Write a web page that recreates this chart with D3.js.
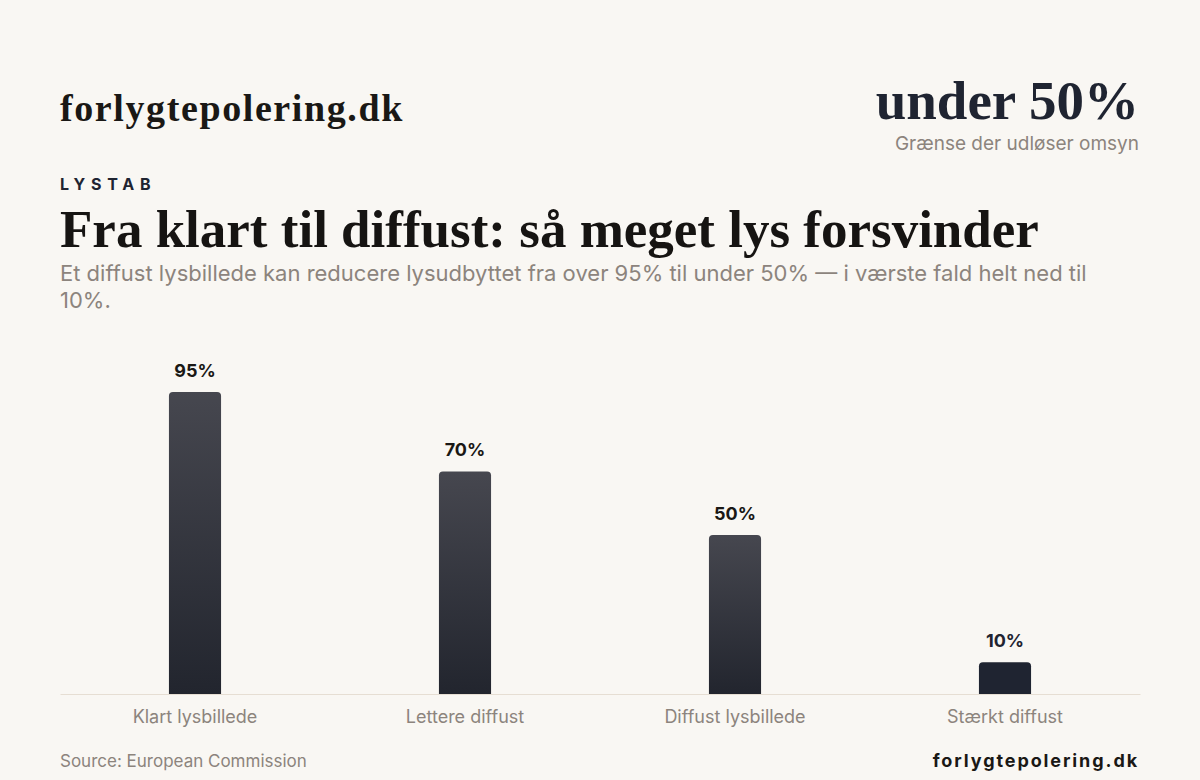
<!DOCTYPE html>
<html>
<head>
<meta charset="utf-8">
<script src="https://cdn.jsdelivr.net/npm/d3@7"></script>
<style>
  html, body { margin: 0; padding: 0; background: #f9f7f3; }
  svg { display: block; }
  .serif { font-family: "Liberation Serif", "DejaVu Serif", serif; font-weight: 700; }
  .sans { font-family: Inter, "Noto Sans", sans-serif; }
</style>
</head>
<body>
<div id="chart"></div>
<script>
const categories = ["Klart lysbillede", "Lettere diffust", "Diffust lysbillede", "Stærkt diffust"];
const values = [95, 70, 50, 10];
const highlighted = ["Stærkt diffust"];
const subtitleLines = [
  "Et diffust lysbillede kan reducere lysudbyttet fra over 95% til under 50% — i værste fald helt ned til",
  "10%."
];

const W = 1200, H = 780;
const margin = { top: 376, right: 60, bottom: 86, left: 60 };

const svg = d3.select("#chart").append("svg")
  .attr("width", W)
  .attr("height", H);

svg.append("rect").attr("width", W).attr("height", H).attr("fill", "#f9f7f3");

const defs = svg.append("defs");
const grad = defs.append("linearGradient")
  .attr("id", "barGrad")
  .attr("x1", 0).attr("y1", 0).attr("x2", 0).attr("y2", 1);
grad.append("stop").attr("offset", "0%").attr("stop-color", "#46474f");
grad.append("stop").attr("offset", "100%").attr("stop-color", "#22252e");

// header
svg.append("text").attr("class", "serif")
  .attr("x", 60).attr("y", 121)
  .attr("font-size", 38).attr("fill", "#1a1815")
  .attr("letter-spacing", 1.6)
  .text("forlygtepolering.dk");

svg.append("text").attr("class", "serif")
  .attr("x", 1139).attr("y", 119)
  .attr("text-anchor", "end")
  .attr("font-size", 55).attr("fill", "#1f2431")
  .text("under 50%");

svg.append("text").attr("class", "sans")
  .attr("x", 1139).attr("y", 150)
  .attr("text-anchor", "end")
  .attr("font-size", 19).attr("fill", "#8c847d")
  .text("Grænse der udløser omsyn");

svg.append("text").attr("class", "sans")
  .attr("x", 60).attr("y", 190)
  .attr("font-size", 16).attr("font-weight", 700)
  .attr("letter-spacing", 5.8).attr("fill", "#1f2431")
  .text("LYSTAB");

svg.append("text").attr("class", "serif")
  .attr("x", 60).attr("y", 247)
  .attr("font-size", 53).attr("fill", "#161412")
  .text("Fra klart til diffust: så meget lys forsvinder");

svg.append("text").attr("class", "sans")
  .attr("x", 60).attr("y", 281)
  .attr("font-size", 22).attr("fill", "#8c847d")
  .selectAll("tspan")
  .data(subtitleLines)
  .enter()
  .append("tspan")
  .attr("x", 60)
  .attr("dy", (d, i) => i === 0 ? 0 : 27)
  .text(d => d);

// chart
const x = d3.scaleBand()
  .domain(categories)
  .range([margin.left, W - margin.right])
  .paddingInner(0.807)
  .paddingOuter(0.4035);

const y = d3.scaleLinear()
  .domain([0, 100])
  .range([H - margin.bottom, margin.top]);

const data = categories.map((c, i) => ({ cat: c, val: values[i] }));

const xAxis = svg.append("g")
  .attr("transform", `translate(0, ${H - margin.bottom})`)
  .call(d3.axisBottom(x).tickSize(0).tickPadding(16));
xAxis.select(".domain").attr("stroke", "#e6ded3").attr("stroke-width", 1);
xAxis.selectAll("text")
  .attr("class", "sans")
  .attr("font-size", 18)
  .attr("fill", "#8c847d");

const r = 4;
svg.selectAll(".bar")
  .data(data)
  .enter()
  .append("path")
  .attr("class", "bar")
  .attr("fill", d => highlighted.includes(d.cat) ? "#1f2431" : "url(#barGrad)")
  .attr("d", d => {
    const x0 = x(d.cat), w = x.bandwidth();
    const y0 = y(d.val), y1 = y(0);
    return `M${x0},${y1}V${y0 + r}Q${x0},${y0} ${x0 + r},${y0}H${x0 + w - r}Q${x0 + w},${y0} ${x0 + w},${y0 + r}V${y1}Z`;
  });

svg.selectAll(".val")
  .data(data)
  .enter()
  .append("text")
  .attr("class", "val sans")
  .attr("x", d => x(d.cat) + x.bandwidth() / 2)
  .attr("y", d => y(d.val) - 15)
  .attr("text-anchor", "middle")
  .attr("font-size", 18).attr("font-weight", 700)
  .attr("fill", d => highlighted.includes(d.cat) ? "#1f2431" : "#1a1815")
  .text(d => d.val + "%");

// footer
svg.append("text").attr("class", "sans")
  .attr("x", 60).attr("y", 767)
  .attr("font-size", 17).attr("fill", "#8c847d")
  .text("Source: European Commission");

svg.append("text").attr("class", "sans")
  .attr("x", 1139).attr("y", 767)
  .attr("text-anchor", "end")
  .attr("font-size", 18).attr("font-weight", 700)
  .attr("letter-spacing", 1.9).attr("fill", "#1a1815")
  .text("forlygtepolering.dk");
</script>
</body>
</html>
